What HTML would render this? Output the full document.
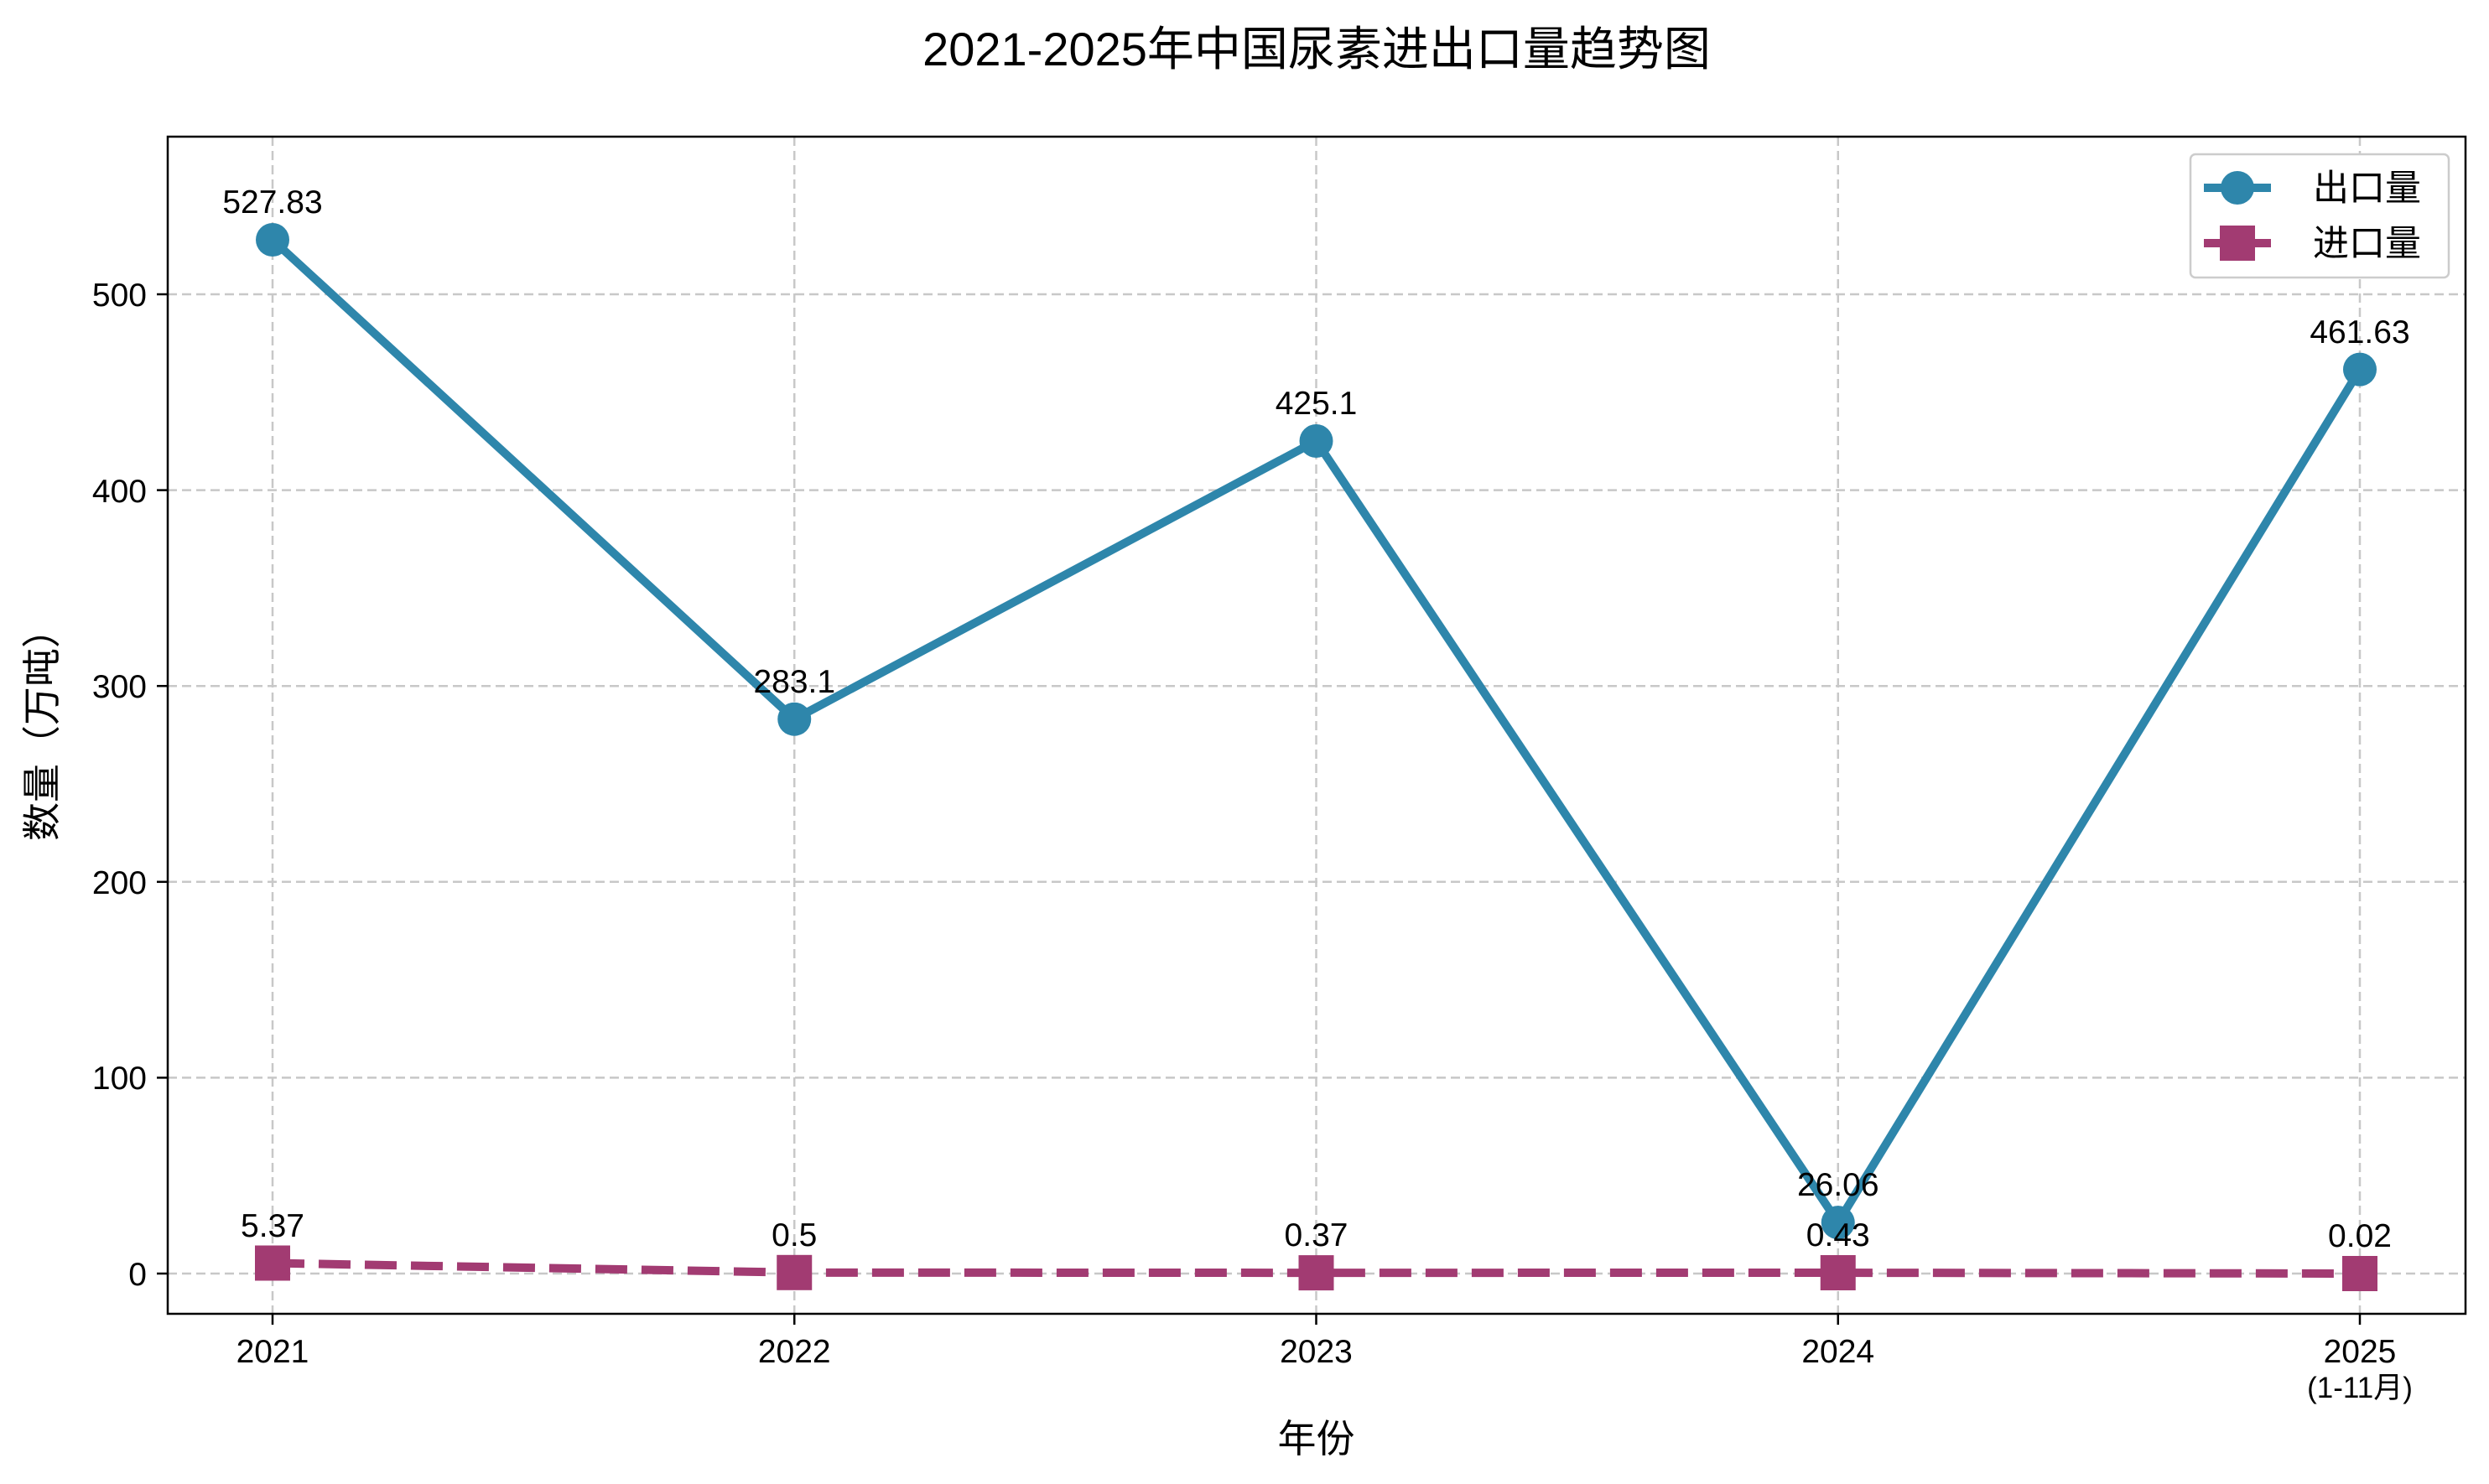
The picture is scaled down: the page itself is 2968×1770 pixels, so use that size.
<!DOCTYPE html>
<html><head><meta charset="utf-8"><style>body{margin:0;background:#fff}svg{display:block}text{font-family:"Liberation Sans","Noto Sans CJK SC",sans-serif;fill:#000}</style></head><body>
<svg width="2968" height="1770" viewBox="0 0 2968 1770" xmlns="http://www.w3.org/2000/svg">
<rect width="2968" height="1770" fill="#fff"/>
<text x="1570" y="78" font-size="56" text-anchor="middle">2021-2025年中国尿素进出口量趋势图</text>
<g stroke="#c8c8c8" stroke-width="2.5" stroke-dasharray="11,6">
<line x1="325" y1="163" x2="325" y2="1567"/><line x1="947.25" y1="163" x2="947.25" y2="1567"/><line x1="1569.5" y1="163" x2="1569.5" y2="1567"/><line x1="2191.75" y1="163" x2="2191.75" y2="1567"/><line x1="2814" y1="163" x2="2814" y2="1567"/>
<line x1="200" y1="1519" x2="2940" y2="1519"/><line x1="200" y1="1285.4" x2="2940" y2="1285.4"/><line x1="200" y1="1051.8" x2="2940" y2="1051.8"/><line x1="200" y1="818.2" x2="2940" y2="818.2"/><line x1="200" y1="584.6" x2="2940" y2="584.6"/><line x1="200" y1="351" x2="2940" y2="351"/>
</g>
<rect x="200" y="163" width="2740" height="1404" fill="none" stroke="#000" stroke-width="2.5"/>
<g stroke="#000" stroke-width="2.5">
<line x1="187" y1="1519" x2="200" y2="1519"/><line x1="187" y1="1285.4" x2="200" y2="1285.4"/><line x1="187" y1="1051.8" x2="200" y2="1051.8"/><line x1="187" y1="818.2" x2="200" y2="818.2"/><line x1="187" y1="584.6" x2="200" y2="584.6"/><line x1="187" y1="351" x2="200" y2="351"/>
<line x1="325" y1="1567" x2="325" y2="1580"/><line x1="947.25" y1="1567" x2="947.25" y2="1580"/><line x1="1569.5" y1="1567" x2="1569.5" y2="1580"/><line x1="2191.75" y1="1567" x2="2191.75" y2="1580"/><line x1="2814" y1="1567" x2="2814" y2="1580"/>
</g>
<g font-size="39" text-anchor="end">
<text x="175" y="1533">0</text><text x="175" y="1299">100</text><text x="175" y="1066">200</text><text x="175" y="832">300</text><text x="175" y="599">400</text><text x="175" y="365">500</text>
</g>
<g font-size="39" text-anchor="middle">
<text x="325" y="1625">2021</text><text x="947.25" y="1625">2022</text><text x="1569.5" y="1625">2023</text><text x="2191.75" y="1625">2024</text><text x="2814" y="1625">2025</text>
<text x="2814" y="1667" font-size="35">(1-11月)</text>
</g>
<text x="1569.5" y="1732" font-size="46" text-anchor="middle">年份</text>
<text transform="translate(66,865) rotate(-90)" font-size="46" text-anchor="middle">数量（万吨）</text>
<polyline points="325,286 947.25,857.7 1569.5,526 2191.75,1458.1 2814,440.6" fill="none" stroke="#2e86ab" stroke-width="10" stroke-linejoin="round"/>
<g fill="#2e86ab"><circle cx="325" cy="286" r="20"/><circle cx="947.25" cy="857.7" r="20"/><circle cx="1569.5" cy="526" r="20"/><circle cx="2191.75" cy="1458.1" r="20"/><circle cx="2814" cy="440.6" r="20"/></g>
<polyline points="325,1506.5 947.25,1517.8 1569.5,1518.1 2191.75,1518 2814,1519" fill="none" stroke="#a23b72" stroke-width="10" stroke-dasharray="38,17"/>
<g fill="#a23b72"><rect x="304" y="1485.5" width="42" height="42"/><rect x="926.25" y="1496.8" width="42" height="42"/><rect x="1548.5" y="1497.1" width="42" height="42"/><rect x="2170.75" y="1497" width="42" height="42"/><rect x="2793" y="1498" width="42" height="42"/></g>
<g font-size="39" text-anchor="middle">
<text x="325" y="254">527.83</text><text x="947.25" y="826">283.1</text><text x="1569.5" y="494">425.1</text><text x="2191.75" y="1426">26.06</text><text x="2814" y="409">461.63</text>
<text x="325" y="1475">5.37</text><text x="947.25" y="1486">0.5</text><text x="1569.5" y="1486">0.37</text><text x="2191.75" y="1486">0.43</text><text x="2814" y="1487">0.02</text>
</g>
<rect x="2612" y="184" width="308" height="147" rx="6" fill="#fff" stroke="#ccc" stroke-width="2.5"/>
<line x1="2628" y1="224" x2="2708" y2="224" stroke="#2e86ab" stroke-width="10"/><circle cx="2668" cy="224" r="20" fill="#2e86ab"/>
<line x1="2628" y1="290" x2="2708" y2="290" stroke="#a23b72" stroke-width="10" stroke-dasharray="38,17"/><rect x="2647" y="269" width="42" height="42" fill="#a23b72"/>
<text x="2758" y="239" font-size="43">出口量</text><text x="2758" y="305" font-size="43">进口量</text>
</svg>
</body></html>
